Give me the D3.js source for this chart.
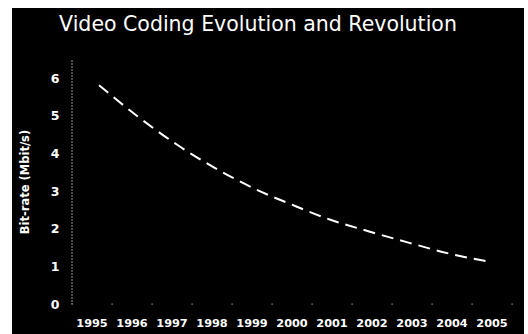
<!DOCTYPE html>
<html>
<head>
<meta charset="utf-8">
<script src="https://cdn.jsdelivr.net/npm/d3@7"></script>
<style>
  html, body { margin: 0; padding: 0; background: #fff; }
  svg { display: block; }
</style>
</head>
<body>
<div id="chart"></div>
<script>
// chart data
const years = ["1995", "1996", "1997", "1998", "1999", "2000", "2001", "2002", "2003", "2004", "2005"];
const bitrate = [5.81, 4.98, 4.24, 3.61, 3.07, 2.63, 2.23, 1.92, 1.63, 1.35, 1.14];
const yTicks = [0, 1, 2, 3, 4, 5, 6];

const W = 528, H = 334;
const panel = { x: 12, y: 8, w: 512, h: 326 };
const plot = { left: 72, right: 512, top: 60, bottom: 304 };

const svg = d3.select("#chart").append("svg")
    .attr("width", W)
    .attr("height", H);

// black slide panel
svg.append("rect")
    .attr("x", panel.x).attr("y", panel.y)
    .attr("width", panel.w).attr("height", panel.h)
    .attr("fill", "#000");

// title
svg.append("text")
    .attr("x", 258).attr("y", 31)
    .attr("text-anchor", "middle")
    .attr("fill", "#fff")
    .style("font-family", "DejaVu Sans")
    .style("font-size", "20.5px")
    .text("Video Coding Evolution and Revolution");

const x = d3.scaleBand()
    .domain(years)
    .range([plot.left, plot.right]);

// line points sit a bit inside the category centres
const xLine = d3.scalePoint()
    .domain(years)
    .range([99, 486]);

const y = d3.scaleLinear()
    .domain([0, 6])
    .range([plot.bottom, 78]);

// Y-AXIS line (faint dotted)
svg.append("line")
    .attr("x1", plot.left).attr("x2", plot.left)
    .attr("y1", plot.top).attr("y2", plot.bottom)
    .attr("stroke", "#999")
    .attr("stroke-width", 1)
    .attr("stroke-dasharray", "2,1");

// Y tick labels
svg.append("g")
    .selectAll("text")
    .data(yTicks)
    .join("text")
    .attr("x", 55)
    .attr("y", d => y(d))
    .attr("dy", "0.36em")
    .attr("text-anchor", "middle")
    .attr("fill", "#fff")
    .style("font-family", "DejaVu Sans")
    .style("font-weight", "bold")
    .style("font-size", "12.5px")
    .text(d => d);

// X-AXIS: just tick dots on the baseline
svg.append("g")
    .selectAll("rect")
    .data(years.concat(["end"]))
    .join("rect")
    .attr("x", d => (d === "end" ? plot.right : x(d)) - 0.5)
    .attr("y", plot.bottom - 0.5)
    .attr("width", 1.2).attr("height", 1.2)
    .attr("fill", "#aaa");

// X labels
svg.append("g")
    .selectAll("text")
    .data(years)
    .join("text")
    .attr("x", d => x(d) + x.bandwidth() / 2)
    .attr("y", 327)
    .attr("text-anchor", "middle")
    .attr("fill", "#fff")
    .style("font-family", "DejaVu Sans")
    .style("font-weight", "bold")
    .style("font-size", "11.3px")
    .text(d => d);

// Y title
svg.append("text")
    .attr("transform", "translate(29,182) rotate(-90)")
    .attr("text-anchor", "middle")
    .attr("fill", "#fff")
    .style("font-family", "DejaVu Sans")
    .style("font-weight", "bold")
    .style("font-size", "11.5px")
    .text("Bit-rate (Mbit/s)");

// dashed curve
const line = d3.line()
    .x((d, i) => xLine(years[i]))
    .y(d => y(d))
    .curve(d3.curveMonotoneX);

svg.append("path")
    .datum(bitrate)
    .attr("fill", "none")
    .attr("stroke", "#fff")
    .attr("stroke-width", 2)
    .attr("stroke-dasharray", "12,7")
    .attr("d", line);
</script>
</body>
</html>
